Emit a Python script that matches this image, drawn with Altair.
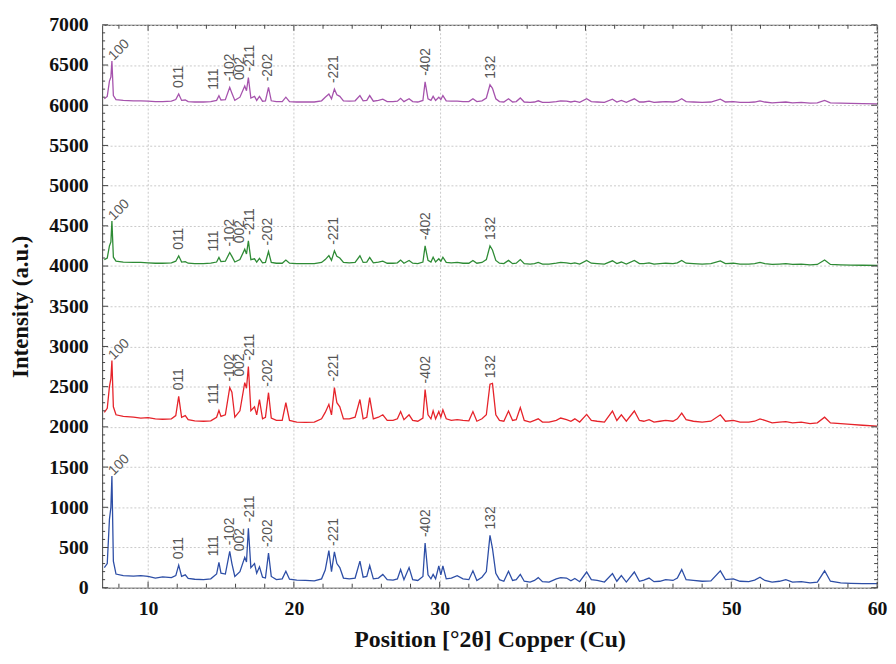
import altair as alt
import pandas as pd

# ---------------- data ----------------
two_theta = [
    7.0, 7.2, 7.35, 7.45, 7.52, 7.62, 7.8, 8.3, 9.0, 9.5,
    10.0, 10.5, 11.0, 11.6, 11.9, 12.1, 12.3, 12.55, 12.75, 13.2,
    13.8, 14.3, 14.7, 14.86, 15.0, 15.3, 15.6, 15.75, 15.95, 16.3,
    16.63, 16.75, 16.88, 17.05, 17.3, 17.45, 17.64, 17.85, 18.05, 18.26,
    18.45, 18.8, 19.2, 19.45, 19.7, 20.2, 20.8, 21.4, 21.9, 22.15,
    22.4, 22.58, 22.78, 22.95, 23.15, 23.4, 23.8, 24.2, 24.53, 24.75,
    25.0, 25.2, 25.45, 25.8, 26.1, 26.4, 26.8, 27.1, 27.32, 27.55,
    27.9, 28.15, 28.5, 28.85, 29.0, 29.2, 29.4, 29.55, 29.72, 29.94,
    30.08, 30.22, 30.45, 30.8, 31.2, 31.6, 32.0, 32.28, 32.55, 32.9,
    33.2, 33.45, 33.62, 33.85, 34.1, 34.4, 34.72, 35.0, 35.25, 35.53,
    35.8, 36.2, 36.5, 36.76, 37.05, 37.5, 38.0, 38.3, 38.7, 39.0,
    39.27, 39.6, 40.08, 40.4, 40.8, 41.3, 41.85, 42.15, 42.46, 42.8,
    43.35, 43.7, 44.0, 44.36, 44.7, 45.1, 45.5, 46.0, 46.3, 46.6,
    46.9, 47.4, 48.0, 48.6, 49.25, 49.6, 50.14, 50.6, 51.2, 51.6,
    51.97, 52.3, 52.8, 53.3, 53.74, 54.2, 54.8, 55.4, 55.9, 56.4,
    56.8, 57.5, 58.2, 59.0, 60.0,
]

blue = [
    250, 300, 850, 1000, 1390, 330, 170, 150, 145, 150,
    140, 120, 135, 125, 150, 280, 140, 160, 115, 105,
    100, 110, 170, 316, 180, 170, 452, 300, 140, 200,
    378, 320, 739, 250, 300, 180, 259, 130, 120, 431,
    140, 100, 110, 205, 105, 95, 90, 85, 110, 220,
    460, 200, 445, 300, 250, 120, 110, 120, 330, 130,
    140, 275, 110, 120, 165, 100, 95, 110, 225, 100,
    250, 100, 90, 140, 555, 160, 110, 165, 110, 270,
    160, 270, 110, 120, 150, 110, 100, 210, 90, 130,
    200, 650, 490, 180, 100, 80, 205, 90, 100, 165,
    80, 70, 90, 125, 75, 70, 110, 125, 120, 85,
    115, 75, 195, 100, 90, 70, 175, 80, 150, 70,
    195, 80, 95, 120, 75, 80, 100, 90, 120, 225,
    100, 90, 80, 85, 210, 100, 110, 80, 75, 95,
    130, 90, 70, 80, 100, 70, 75, 60, 70, 210,
    80, 60, 55, 50, 50,
]

red = [
    2180, 2230, 2500, 2600, 2825, 2250, 2150, 2130, 2120, 2110,
    2115, 2100, 2095, 2100, 2140, 2380, 2120, 2140, 2090, 2075,
    2070, 2075, 2120, 2205, 2130, 2150, 2488, 2430, 2120, 2200,
    2550, 2480, 2750, 2200, 2250, 2150, 2340, 2100, 2120, 2425,
    2110, 2080, 2080, 2300, 2080, 2060, 2055, 2060, 2100, 2180,
    2280, 2150, 2488, 2300, 2250, 2100, 2100, 2120, 2340, 2100,
    2120, 2365, 2100, 2120, 2150, 2080, 2080, 2100, 2190, 2090,
    2150, 2080, 2070, 2110, 2465, 2150, 2100, 2200, 2100, 2190,
    2120, 2212, 2100, 2080, 2090, 2080, 2075, 2190, 2070, 2100,
    2150, 2530, 2540, 2150, 2080, 2070, 2197, 2080, 2090, 2240,
    2080, 2060, 2080, 2100, 2060, 2060, 2080, 2110, 2090, 2070,
    2100, 2060, 2155, 2080, 2070, 2060, 2197, 2080, 2150, 2070,
    2197, 2080, 2070, 2090, 2060, 2070, 2080, 2070, 2100, 2170,
    2090, 2070, 2060, 2070, 2150, 2070, 2080, 2060, 2060, 2070,
    2100, 2080, 2050, 2060, 2065, 2050, 2060, 2040, 2050, 2120,
    2050, 2040, 2030, 2020, 2010,
]

green = [
    4080, 4100, 4250, 4300, 4560, 4110, 4060, 4050, 4045, 4045,
    4040, 4035, 4035, 4040, 4060, 4127, 4050, 4055, 4035, 4030,
    4030, 4035, 4050, 4106, 4055, 4060, 4168, 4120, 4050, 4080,
    4209, 4150, 4312, 4080, 4090, 4050, 4095, 4040, 4045, 4180,
    4045, 4035, 4035, 4075, 4035, 4030, 4030, 4030, 4045, 4080,
    4130, 4070, 4189, 4120, 4100, 4045, 4040, 4045, 4127, 4045,
    4050, 4106, 4040, 4050, 4060, 4035, 4035, 4040, 4075, 4035,
    4070, 4035, 4030, 4050, 4250, 4070, 4050, 4110, 4050, 4090,
    4060, 4110, 4045, 4040, 4045, 4035, 4035, 4070, 4035, 4045,
    4080, 4250, 4200, 4070, 4035, 4030, 4070, 4030, 4035, 4080,
    4030, 4025, 4030, 4045, 4025, 4025, 4035, 4045, 4040, 4030,
    4040, 4025, 4070, 4035, 4030, 4025, 4065, 4030, 4050, 4025,
    4070, 4030, 4030, 4040, 4025, 4030, 4035, 4030, 4040, 4070,
    4035, 4030, 4025, 4030, 4065, 4030, 4035, 4025, 4025, 4030,
    4045, 4030, 4020, 4025, 4030, 4020, 4025, 4015, 4020, 4075,
    4020, 4015, 4012, 4010, 4008,
]

purple = [
    6080, 6110, 6300, 6350, 6550, 6120, 6070, 6060, 6055, 6055,
    6050, 6045, 6045, 6050, 6070, 6140, 6060, 6065, 6045, 6040,
    6040, 6045, 6060, 6118, 6065, 6070, 6222, 6150, 6060, 6100,
    6240, 6180, 6345, 6090, 6110, 6060, 6110, 6050, 6055, 6222,
    6055, 6045, 6045, 6100, 6045, 6040, 6040, 6040, 6055, 6100,
    6140, 6080, 6200, 6130, 6110, 6055, 6050, 6055, 6120, 6055,
    6060, 6120, 6050, 6060, 6075, 6045, 6045, 6050, 6085, 6045,
    6080, 6045, 6040, 6060, 6290, 6080, 6060, 6110, 6060, 6100,
    6070, 6120, 6055, 6050, 6050, 6045, 6045, 6080, 6045, 6055,
    6090, 6255, 6210, 6080, 6045, 6040, 6080, 6040, 6045, 6090,
    6040, 6035, 6040, 6055, 6035, 6035, 6045, 6055, 6050, 6040,
    6050, 6035, 6080, 6045, 6040, 6035, 6075, 6040, 6060, 6035,
    6080, 6040, 6040, 6050, 6035, 6040, 6045, 6040, 6050, 6080,
    6045, 6040, 6035, 6040, 6075, 6040, 6045, 6035, 6035, 6040,
    6055, 6040, 6030, 6035, 6040, 6030, 6035, 6025, 6030, 6060,
    6030, 6025, 6022, 6020, 6018,
]

series_names = ["blue", "red", "green", "purple"]
series_colors = ["#2d4ea6", "#e6232a", "#2e8b35", "#a653ad"]

label_text = ["011", "111", "-102", "002", "-211", "-202", "-221", "-402", "132"]
label_x = [12.1, 14.55, 15.62, 16.3, 17.0, 18.26, 22.72, 29.05, 33.55]
label_peak = [12.1, 14.86, 15.6, 16.63, 16.88, 18.26, 22.78, 29.0, 33.45]
first_label = "100"
first_peak = 7.52
first_label_x = 7.45

# ---------------- tables ----------------
all_vals = [blue, red, green, purple]
rows = []
for name, vals in zip(series_names, all_vals):
    assert len(vals) == len(two_theta)
    for x, y in zip(two_theta, vals):
        rows.append({"x": x, "y": y, "s": name})
df = pd.DataFrame(rows)

lab_rows = []
first_rows = []
for name, vals in zip(series_names, all_vals):
    for t, lx, pk in zip(label_text, label_x, label_peak):
        lab_rows.append({"x": lx, "y": vals[two_theta.index(pk)] + 75, "t": t})
    first_rows.append({"x": first_label_x, "y": vals[two_theta.index(first_peak)] + 35, "t": first_label})
lab_df = pd.DataFrame(lab_rows)
first_df = pd.DataFrame(first_rows)

W, H = 782, 568
XDOM = [6.85, 60]
YDOM = [0, 7000]
xs = alt.Scale(domain=XDOM, nice=False, zero=False)
ys = alt.Scale(domain=YDOM, nice=False, zero=False)

SERIF = "Liberation Serif"

x_axis = alt.Axis(
    values=[10, 20, 30, 40, 50, 60], format="d",
    labelFont=SERIF, labelFontSize=20, labelFontWeight="bold", labelColor="#111",
    labelPadding=11, labelFlush=False, labelOverlap=False,
    ticks=False, domain=False,
    grid=True, gridColor="#c9c9c9", gridDash=[2, 2], gridWidth=1,
    title="Position [°2θ] Copper (Cu)", titleFont=SERIF, titleFontSize=24,
    titleFontWeight="bold", titleColor="#111",
    titleX=W / 2, titleY=52, titleAlign="center", titleBaseline="middle",
)
y_axis = alt.Axis(
    values=list(range(0, 7001, 500)), format="d",
    labelFont=SERIF, labelFontSize=20, labelFontWeight="bold", labelColor="#111",
    labelPadding=14, labelFlush=False, labelOverlap=False,
    ticks=False, domain=False,
    grid=True, gridColor="#c9c9c9", gridDash=[2, 2], gridWidth=1,
    title="Intensity (a.u.)", titleFont=SERIF, titleFontSize=23,
    titleFontWeight="bold", titleColor="#111",
    titleX=-82, titleY=H / 2, titleAngle=270, titleAlign="center", titleBaseline="middle",
)

lines = alt.Chart(df).mark_line(strokeWidth=1.3, clip=True).encode(
    x=alt.X("x:Q", scale=xs, axis=x_axis),
    y=alt.Y("y:Q", scale=ys, axis=y_axis),
    color=alt.Color("s:N", scale=alt.Scale(domain=series_names, range=series_colors), legend=None),
    detail="s:N",
)

labels = alt.Chart(lab_df).mark_text(
    angle=270, align="left", baseline="middle", font="Liberation Sans",
    fontSize=14, color="#555555",
).encode(
    x=alt.X("x:Q", scale=xs),
    y=alt.Y("y:Q", scale=ys),
    text="t:N",
)

first_labels = alt.Chart(first_df).mark_text(
    angle=315, align="left", baseline="middle", font="Liberation Sans",
    fontSize=14, color="#555555",
).encode(
    x=alt.X("x:Q", scale=xs),
    y=alt.Y("y:Q", scale=ys),
    text="t:N",
)

# inward tick marks on all four sides
xt_major = pd.DataFrame({"x": [10, 20, 30, 40, 50, 60]})
xt_minor = pd.DataFrame({"x": [v for v in range(8, 61, 2) if v % 10 != 0]})
yt_major = pd.DataFrame({"y": list(range(0, 7001, 500))})
yt_minor = pd.DataFrame({"y": [v for v in range(0, 7001, 100) if v % 500 != 0]})

TC = "#444444"


def xticks(d, ln):
    b = alt.Chart(d).mark_rule(color=TC, strokeWidth=1).encode(
        x=alt.X("x:Q", scale=xs), y=alt.value(H), y2=alt.value(H - ln))
    t = alt.Chart(d).mark_rule(color=TC, strokeWidth=1).encode(
        x=alt.X("x:Q", scale=xs), y=alt.value(0), y2=alt.value(ln))
    return [b, t]


def yticks(d, ln):
    l = alt.Chart(d).mark_rule(color=TC, strokeWidth=1).encode(
        y=alt.Y("y:Q", scale=ys), x=alt.value(0), x2=alt.value(ln))
    r = alt.Chart(d).mark_rule(color=TC, strokeWidth=1).encode(
        y=alt.Y("y:Q", scale=ys), x=alt.value(W), x2=alt.value(W - ln))
    return [l, r]


tick_layers = xticks(xt_major, 6) + xticks(xt_minor, 4) + yticks(yt_major, 6) + yticks(yt_minor, 3)

chart = alt.layer(lines, labels, first_labels, *tick_layers).properties(
    width=W, height=H,
    autosize=alt.AutoSizeParams(type="none"),
    padding={"left": 95, "top": 14, "right": 11, "bottom": 70},
    background="white",
).configure_view(stroke="#404040", strokeWidth=1)

chart.save("out.html", embed_options={"renderer": "svg", "actions": False})
